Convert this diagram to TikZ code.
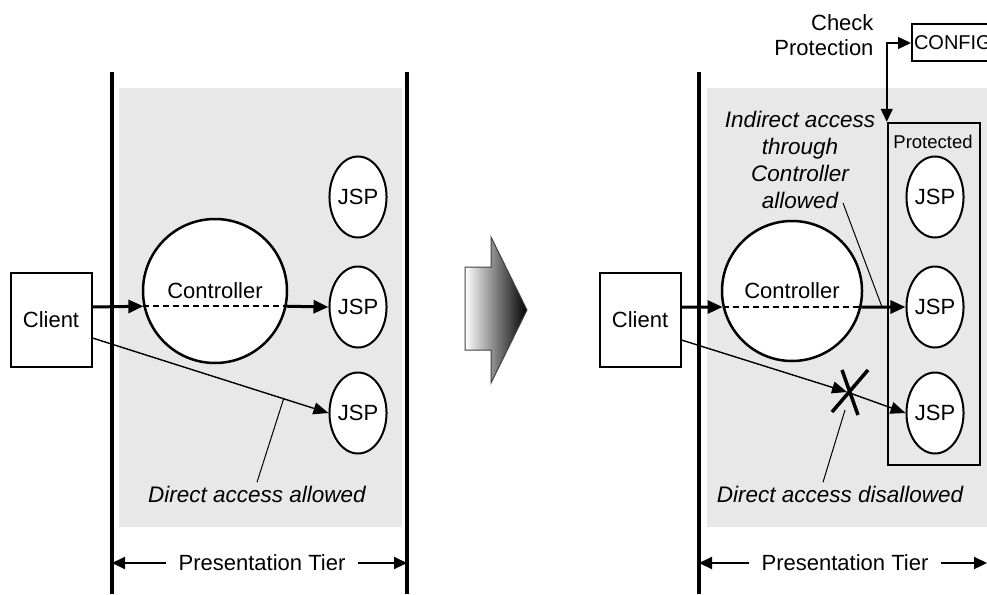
\documentclass[tikz,border=0pt]{standalone}
\usepackage{fontspec}
\setmainfont{Liberation Sans}
\usetikzlibrary{arrows.meta}
\usetikzlibrary{shapes,calc}

\tikzset{
  tier/.style={line width=3.5pt},
  back/.style={fill=gray!18},
  jsp/.style={draw,ellipse,fill=white,line width=2pt,minimum width=57pt,minimum height=81pt,inner sep=0pt},
  ctrlnode/.style={draw,circle,fill=white,line width=2.5pt,inner sep=0pt},
  clientbox/.style={draw,fill=white,line width=2pt,minimum width=81pt,minimum height=94pt},
  flow/.style={line width=3pt,-{Triangle[length=15pt,width=13pt]}},
  direct/.style={line width=1.4pt,-{Triangle[length=15pt,width=12pt]}},
  inner/.style={line width=2pt,dash pattern=on 6pt off 4pt},
  callout/.style={line width=1pt},
  tierlbl/.style={inner xsep=12pt},
  tierarrow/.style={line width=2pt,-{Triangle[length=13pt,width=12pt]}},
  note/.style={font=\fontsize{22.5}{27}\selectfont\itshape,align=center},
}

\begin{document}
\begin{tikzpicture}[x=1pt,y=-1pt,font=\fontsize{22}{25}\selectfont]
\useasboundingbox (0,0) rectangle (987,594);
\clip (0,0) rectangle (987,594);

% before
\fill[back] (119,88) rectangle (402,527);
\draw[tier] (112,72) coordinate (lwall) -- (112,594);
\draw[tier] (407,72) coordinate (rwallb) -- (407,594);
\node[clientbox] (client) at (51,320) {Client};
\node[ctrlnode,minimum size=144pt] (ctrl) at (215,291) {Controller};
\foreach \y/\n in {197/1,307/2,413/3} {
\node[jsp] (jsp\n) at (358,\y) {JSP};
}
\draw[flow] ([yshift=13pt]client.east) -- (ctrl.192.8);
\draw[inner] (ctrl.192.8) -- (ctrl.-12.8);
\draw[flow] (ctrl.-12.8) -- (jsp2.west);
\draw[direct] ([yshift=-18pt]client.east) -- coordinate[pos=0.81] (lhit) (jsp3.west);
\node[note] (llbl) at (257,494) {Direct access allowed};
\draw[callout] (lhit) -- (llbl.north);
\node[tierlbl] (ltier) at (262,563) {Presentation Tier};
\draw[tierarrow] (ltier.west) -- (ltier -| lwall);
\draw[tierarrow] (ltier.east) -- (ltier -| rwallb);

% big arrow
\shadedraw[left color=white,right color=black,draw=black!75,line width=1pt]
  (465,267) -- (491,267) -- (491,237) -- (527,310) -- (491,383) -- (491,350) -- (465,350) -- cycle;

% after
\fill[back] (707,88) rectangle (990,527);
\draw[tier] (699,72) coordinate (rwall) -- (699,594);
\node[clientbox] (rclient) at (640,320) {Client};
\node[ctrlnode,minimum size=140pt] (rctrl) at (792,291) {Controller};
\node[draw,line width=2.5pt,minimum width=92pt,minimum height=342pt] (prot) at (934,294) {};
\node[font=\fontsize{18.5}{22}\selectfont] (protlbl) at (933,142) {Protected};
\foreach \y/\n in {197/1,307/2,413/3} {
\node[jsp] (rjsp\n) at (935,\y) {JSP};
}
\draw[flow] ([yshift=13pt]rclient.east) -- (rctrl.193.2);
\draw[inner] (rctrl.193.2) -- (rctrl.-13.2);
\draw[flow] (rctrl.-13.2) -- (rjsp2.west);

\coordinate (cross) at (847,392);
\draw[direct] ([yshift=-20pt]rclient.east) -- (cross);
\draw[direct] (cross) -- (rjsp3.west);
\draw[line width=3.5pt] ($(cross)+(-15,20)$) -- ($(cross)+(21,-22)$);
\draw[line width=3.5pt] ($(cross)+(-5,-22)$) -- ($(cross)+(11,23)$);
\node[note] (rlbl) at (840,494) {Direct access disallowed};
\draw[callout] ($(cross)+(-2,18)$) -- ($(rlbl.north)+(-17,0)$);

\node[note] (ind) at (800,160) {Indirect access\\through\\Controller\\allowed};
\coordinate (indtop) at (843,203);
\coordinate (indfoot) at (882,307);
\draw[callout] (indtop) -- (indfoot);

\node[align=right,anchor=east] (chk) at (877,35) {Check\\Protection};
\node[draw,line width=2pt,anchor=west,minimum height=37pt,inner xsep=2pt,font=\fontsize{20}{24}\selectfont] (config) at (911,43) {CONFIG};
\draw[line width=1.5pt,{Triangle[length=13pt,width=12pt]}-{Triangle[length=13pt,width=12pt]}]
  (prot.north west) -- (prot.north west |- config.west) -- (config.west);

\coordinate (redge) at (987,563);
\node[tierlbl] (rtier) at (845,563) {Presentation Tier};
\draw[tierarrow] (rtier.west) -- (rtier -| rwall);
\draw[tierarrow] (rtier.east) -- (redge);
\end{tikzpicture}
\end{document}
